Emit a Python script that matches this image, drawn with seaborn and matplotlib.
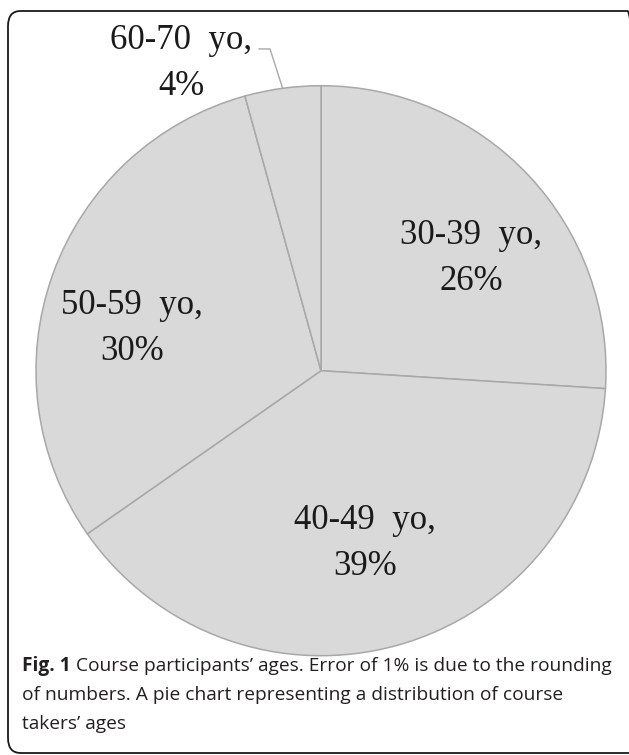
import matplotlib
matplotlib.use("Agg")
import matplotlib.pyplot as plt
from matplotlib.patches import FancyBboxPatch
import numpy as np
import seaborn as sns

# data (clockwise from 12 o'clock)
age_groups = ["30-39", "40-49", "50-59", "60-70"]
shares = [26.0, 39.3, 30.4, 4.3]

sns.set_style("white")

W, H = 629, 755
fig = plt.figure(figsize=(W / 100, H / 100), dpi=100)
fig.set_facecolor("#FFFFFF")

# 1 data unit = pie radius (285 px), centre at (321, 370.7) px
R, cx, cy = 285.0, 321.0, 370.7
ax = fig.add_axes([0, 0, 1, 1])

wedges, _ = ax.pie(shares, startangle=90, counterclock=False, radius=1,
                   colors=["#D9D9D9"] * len(shares),
                   wedgeprops=dict(edgecolor="#A8A8A8", linewidth=1.1))
ax.set_xlim(-cx / R, (W - cx) / R)
ax.set_ylim((cy - H) / R, cy / R)
ax.set_aspect("equal")
ax.axis("off")

label_pos = [(0.526, 0.394), (0.154, -0.606), (-0.663, 0.148), (-0.491, 1.078)]
for name, val, (lx, ly) in zip(age_groups, shares, label_pos):
    ax.text(lx, ly, f"{name}  yo,\n{round(val)}%", ha="center", va="center",
            fontsize=25, family="Liberation Serif", color="#1A1A1A", linespacing=1.55)

# leader line for the small slice
w = wedges[3]
mid = np.deg2rad((w.theta1 + w.theta2) / 2)
ex, ey = np.cos(mid), np.sin(mid)
ax.plot([-0.218, -0.179, ex], [1.129, 1.129, ey], color="#A8A8A8", lw=1.0,
        solid_joinstyle="miter")

# caption
fs = 13.8
x0 = 22 / W
t1 = fig.text(x0, 1 - 671 / H, "Fig. 1", fontsize=fs, fontweight="bold",
              family="Open Sans", color="#231F20", va="baseline")
fig.canvas.draw()
bb = t1.get_window_extent()
fig.text(bb.x1 / W + 5 / W, 1 - 671 / H,
         "Course participants\u2019 ages. Error of 1% is due to the rounding",
         fontsize=fs, family="Open Sans", color="#231F20", va="baseline")
fig.text(x0, 1 - 700 / H,
         "of numbers. A pie chart representing a distribution of course",
         fontsize=fs, family="Open Sans", color="#231F20", va="baseline")
fig.text(x0, 1 - 729 / H, "takers\u2019 ages",
         fontsize=fs, family="Open Sans", color="#231F20", va="baseline")

# rounded frame
frame = FancyBboxPatch((8 / W, 1 - 753 / H), (640 - 8) / W, (753 - 11) / H,
                       boxstyle="round,pad=0,rounding_size=0.02",
                       transform=fig.transFigure, fill=False,
                       edgecolor="#1A1A1A", linewidth=1.3, clip_on=False)
fig.patches.append(frame)

fig.savefig("out.png", dpi=100)
